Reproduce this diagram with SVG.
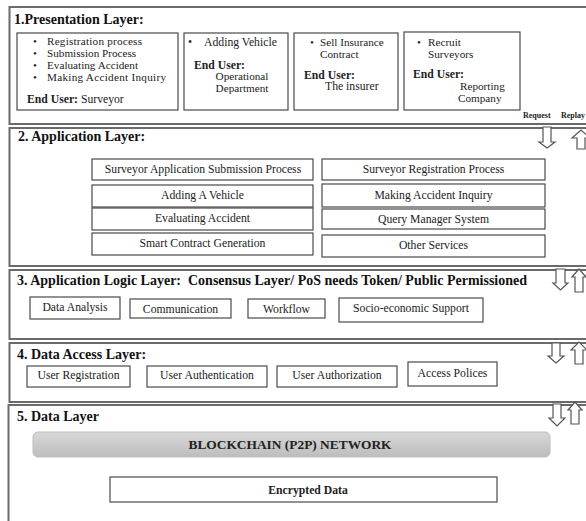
<svg xmlns="http://www.w3.org/2000/svg" width="586" height="521" viewBox="0 0 586 521">
<style>
  .layer { fill: #fff; stroke: #6a6a6a; stroke-width: 2; }
  .box { fill: #fff; stroke: #4a4a4a; stroke-width: 1.2; }
  .t { font-family: "Liberation Serif", "Times New Roman", serif; font-size: 11.7px; fill: #222; }
  .s { font-size: 11.2px; }
  .b { font-weight: bold; }
  .title { font-family: "Liberation Serif", "Times New Roman", serif; font-size: 14px; font-weight: bold; fill: #111; }
  .c { text-anchor: middle; }
  .arrow { fill: #fff; stroke: #555; stroke-width: 1.2; stroke-linejoin: miter; }
  .small { font-family: "Liberation Serif", "Times New Roman", serif; font-size: 8px; font-weight: bold; fill: #222; }
</style>
<defs>
  <linearGradient id="gbar" x1="0" y1="0" x2="0" y2="1">
    <stop offset="0" stop-color="#d8d8d8"/>
    <stop offset="1" stop-color="#bdbdbd"/>
  </linearGradient>
</defs>
<rect width="586" height="521" fill="#fff"/>

<g id="layer1">
  <rect class="layer" x="9.5" y="7" width="600" height="117"/>
  <text class="title" x="14" y="24">1.Presentation Layer:</text>
  <g id="p1">
    <rect class="box" x="17" y="33" width="161" height="77"/>
    <text class="t s" x="33" y="45">•</text><text class="t s" x="47" y="45" textLength="95">Registration process</text>
    <text class="t s" x="33" y="57">•</text><text class="t s" x="47" y="57">Submission Process</text>
    <text class="t s" x="33" y="69">•</text><text class="t s" x="47" y="69">Evaluating Accident</text>
    <text class="t s" x="33" y="81">•</text><text class="t s" x="47" y="81" textLength="119">Making Accident Inquiry</text>
    <text class="t" x="27" y="103"><tspan class="b">End User:</tspan> Surveyor</text>
  </g>
  <g id="p2">
    <rect class="box" x="184" y="33" width="104" height="77"/>
    <text class="t" x="188" y="46">•</text><text class="t" x="204" y="46">Adding Vehicle</text>
    <text class="t b" x="194" y="69">End User:</text>
    <text class="t s c" x="242" y="80">Operational</text>
    <text class="t s c" x="242" y="92">Department</text>
  </g>
  <g id="p3">
    <rect class="box" x="294" y="33" width="104" height="77"/>
    <text class="t s" x="310" y="46">•</text><text class="t s" x="320" y="46">Sell Insurance</text>
    <text class="t s" x="320" y="58">Contract</text>
    <text class="t b" x="304" y="79">End User:</text>
    <text class="t" x="325" y="90">The insurer</text>
  </g>
  <g id="p4">
    <rect class="box" x="404" y="32" width="116" height="78"/>
    <text class="t s" x="417" y="46">•</text><text class="t s" x="428" y="46">Recruit</text>
    <text class="t s" x="428" y="58">Surveyors</text>
    <text class="t b" x="413" y="78">End User:</text>
    <text class="t s" x="460" y="90">Reporting</text>
    <text class="t s" x="458" y="102">Company</text>
  </g>
  <text class="small" x="523" y="118">Request</text>
  <text class="small" x="561" y="118">Replay</text>
</g>

<g id="layer2">
  <rect class="layer" x="9.5" y="128" width="600" height="138"/>
  <text class="title" x="18" y="141">2. Application Layer:</text>
  <g id="a1"><rect class="box" x="92" y="159" width="221" height="21"/><text class="t c" x="203" y="173">Surveyor Application Submission Process</text></g>
  <g id="a2"><rect class="box" x="92" y="185" width="221" height="22"/><text class="t c" x="202.5" y="199">Adding A Vehicle</text></g>
  <g id="a3"><rect class="box" x="92" y="208" width="221" height="22"/><text class="t c" x="202.5" y="222">Evaluating Accident</text></g>
  <g id="a4"><rect class="box" x="92" y="233" width="221" height="22"/><text class="t c" x="202.5" y="247">Smart Contract Generation</text></g>
  <g id="a5"><rect class="box" x="322" y="159" width="223" height="21"/><text class="t c" x="433.5" y="173">Surveyor Registration Process</text></g>
  <g id="a6"><rect class="box" x="322" y="184" width="223" height="23"/><text class="t c" x="433.5" y="199">Making Accident Inquiry</text></g>
  <g id="a7"><rect class="box" x="322" y="209" width="223" height="20"/><text class="t c" x="433.5" y="223">Query Manager System</text></g>
  <g id="a8"><rect class="box" x="322" y="235" width="223" height="22"/><text class="t c" x="433.5" y="249">Other Services</text></g>
</g>

<g id="layer3">
  <rect class="layer" x="9.5" y="270" width="600" height="69"/>
  <text class="title" x="17" y="285" textLength="510" lengthAdjust="spacingAndGlyphs" xml:space="preserve">3. Application Logic Layer:  Consensus Layer/ PoS needs Token/ Public Permissioned</text>
  <g id="l1"><rect class="box" x="30" y="297" width="90" height="22"/><text class="t c" x="75" y="311">Data Analysis</text></g>
  <g id="l2"><rect class="box" x="130" y="299" width="101" height="19"/><text class="t c" x="180.5" y="313">Communication</text></g>
  <g id="l3"><rect class="box" x="248" y="299" width="77" height="19"/><text class="t c" x="286.5" y="313">Workflow</text></g>
  <g id="l4"><rect class="box" x="339" y="298" width="144" height="24"/><text class="t c" x="411" y="312">Socio-economic Support</text></g>
</g>

<g id="layer4">
  <rect class="layer" x="9.5" y="343" width="600" height="59"/>
  <text class="title" x="17" y="359">4. Data Access Layer:</text>
  <g id="d1"><rect class="box" x="27" y="366" width="103" height="21"/><text class="t c" x="78.5" y="379">User Registration</text></g>
  <g id="d2"><rect class="box" x="147" y="366" width="120" height="21"/><text class="t c" x="207" y="379">User Authentication</text></g>
  <g id="d3"><rect class="box" x="277" y="366" width="120" height="21"/><text class="t c" x="337" y="379">User Authorization</text></g>
  <g id="d4"><rect class="box" x="408" y="362" width="89" height="24"/><text class="t c" x="452.5" y="377">Access Polices</text></g>
</g>

<g id="layer5">
  <rect class="layer" x="8.5" y="405" width="600" height="130"/>
  <text class="title" x="17" y="421">5. Data Layer</text>
  <g id="blockchain">
    <rect x="33" y="432" width="517" height="25" rx="5" fill="url(#gbar)" stroke="#bdbdbd" stroke-width="1"/>
    <text class="t c b" x="290" y="449" font-size="11.5" textLength="203" lengthAdjust="spacingAndGlyphs">BLOCKCHAIN (P2P) NETWORK</text>
  </g>
  <g id="encrypted">
    <rect class="box" x="110" y="477" width="387" height="25"/>
    <text class="t c b" x="308" y="494">Encrypted Data</text>
  </g>
</g>

<g id="connectors">
  <path class="arrow" d="M543,127 L551,127 L551,142 L555,142 L547,148 L539,142 L543,142 Z"/>
  <path class="arrow" d="M577,149 L577,138 L572,138 L581,130 L590,138 L585,138 L585,149 Z"/>
  <path class="arrow" d="M556,269 L565,269 L565,283 L568,283 L560.5,290 L553,283 L556,283 Z"/>
  <path class="arrow" d="M575,292 L575,277 L572,277 L579,269 L586,277 L583,277 L583,292 Z"/>
  <path class="arrow" d="M552,343 L560,343 L560,356 L564,356 L556,363 L548,356 L552,356 Z"/>
  <path class="arrow" d="M575,364 L575,350 L571,350 L579,342 L587,350 L583,350 L583,364 Z"/>
  <path class="arrow" d="M553,404 L561,404 L561,418 L565,418 L557,426 L549,418 L553,418 Z"/>
  <path class="arrow" d="M571,424 L571,410 L568,410 L575,402 L582,410 L579,410 L579,424 Z"/>
</g>
</svg>
